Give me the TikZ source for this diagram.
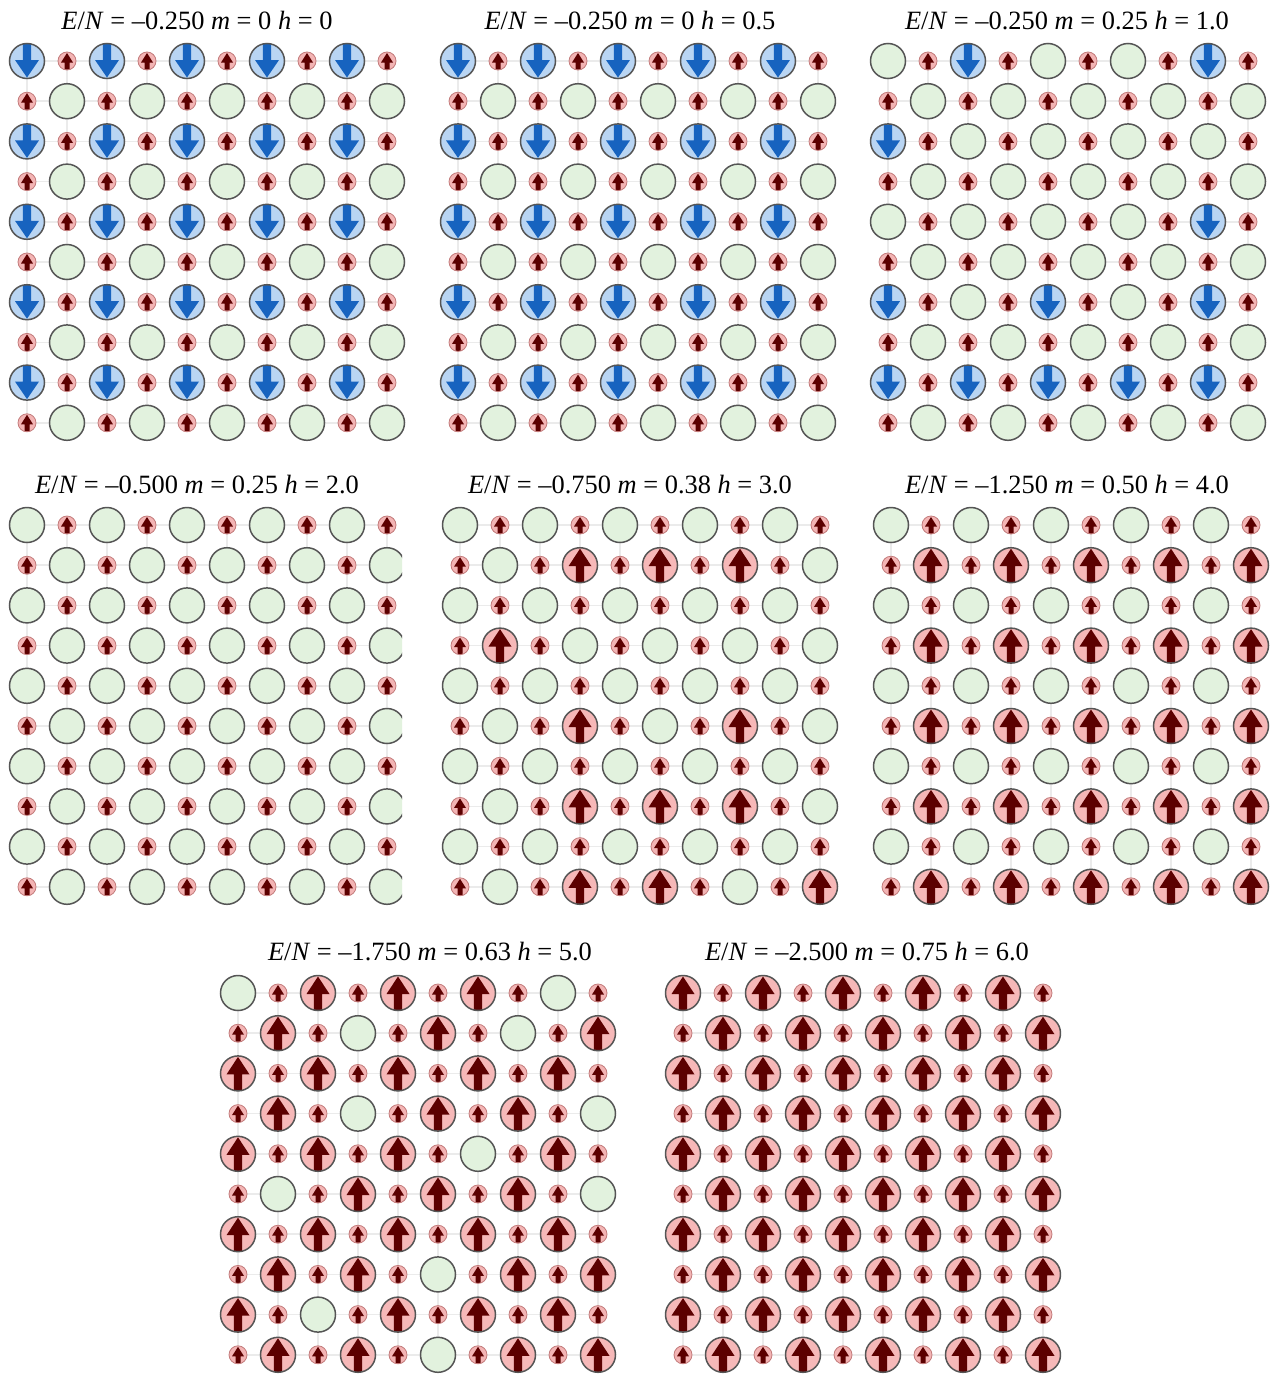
\documentclass[tikz,border=0pt]{standalone}
\usepackage{fontspec}
\setmainfont{Liberation Serif}
\definecolor{gfillc}{HTML}{E2F2DE}
\definecolor{bfillc}{HTML}{B9D5F3}
\definecolor{barrc}{HTML}{1763BF}
\definecolor{rfillc}{HTML}{F6B8B8}
\definecolor{rarrc}{HTML}{5C0000}
\definecolor{sfillc}{HTML}{F3B4B4}
\definecolor{srimc}{HTML}{C27A7A}
\definecolor{rimc}{HTML}{555555}
\definecolor{gridc}{HTML}{EBEBEB}
\def\pdx{40}
\def\pdy{40.2}
\newcommand\drawpanel[4]{%
  \begin{scope}
    \clip ({#1-30},{#2-30}) rectangle ({#3},{#2+9*\pdy+30});
    \foreach \rr in {0,...,9}{\draw[gridl] ({#1},{#2+\rr*\pdy}) -- ({#1+9*\pdx},{#2+\rr*\pdy});}
    \foreach \cc in {0,...,9}{\draw[gridl] ({#1+\cc*\pdx},{#2}) -- ({#1+\cc*\pdx},{#2+9*\pdy});}
    \foreach \rowlist [count=\rn from 0] in {#4}{%
      \pgfmathtruncatemacro\rpar{mod(\rn,2)}%
      \foreach \s [count=\kn from 0] in \rowlist {%
        \pic at ({#1+(2*\kn+\rpar)*\pdx},{#2+\rn*\pdy}) {big={\s}};
        \pic at ({#1+(2*\kn+1-\rpar)*\pdx},{#2+\rn*\pdy}) {small};
      }%
    }%
  \end{scope}}
\tikzset{
  gridl/.style={draw=gridc,line width=1.6pt},
  rim/.style={draw=rimc,line width=1.5pt},
  ttl/.style={anchor=base,inner sep=0pt,font=\fontsize{26.4}{30}\selectfont},
  small/.pic={
    \fill[sfillc] (0,0) circle (9pt);
    \fill[rarrc] (0,-8) -- (6,1.5) -- (2.5,1.5) -- (2.5,8.5) -- (-2.5,8.5) -- (-2.5,1.5) -- (-6,1.5) -- cycle;
    \draw[srimc,line width=0.8pt] (0,0) circle (9pt);
  },
  big/.pic={
    \ifcase#1
      \fill[gfillc] (0,0) circle (17.5pt);
    \or
      \fill[bfillc] (0,0) circle (17.5pt);
      \fill[barrc] (0,16.5) -- (12,-1) -- (4.2,-1) -- (4.2,-17) -- (-4.2,-17) -- (-4.2,-1) -- (-12,-1) -- cycle;
    \or
      \fill[rfillc] (0,0) circle (17.5pt);
      \fill[rarrc] (0,-16.5) -- (11.5,1) -- (4.2,1) -- (4.2,17) -- (-4.2,17) -- (-4.2,1) -- (-11.5,1) -- cycle;
    \fi
    \draw[rim] (0,0) circle (17.5pt);
  },
}
\begin{document}
\begin{tikzpicture}[x=1pt,y=-1pt]
\useasboundingbox (0,0) rectangle (1277,1376);
\fill[white] (0,0) rectangle (1277,1376);
% titles
\node[ttl] (t1) at (197,29) {\textit{E}/\textit{N} = –0.250 \textit{m} = 0 \textit{h} = 0};
\node[ttl] (t2) at (630,29) {\textit{E}/\textit{N} = –0.250 \textit{m} = 0 \textit{h} = 0.5};
\node[ttl] (t3) at (1067,29) {\textit{E}/\textit{N} = –0.250 \textit{m} = 0.25 \textit{h} = 1.0};
\node[ttl] (t4) at (197,493) {\textit{E}/\textit{N} = –0.500 \textit{m} = 0.25 \textit{h} = 2.0};
\node[ttl] (t5) at (630,493) {\textit{E}/\textit{N} = –0.750 \textit{m} = 0.38 \textit{h} = 3.0};
\node[ttl] (t6) at (1067,493) {\textit{E}/\textit{N} = –1.250 \textit{m} = 0.50 \textit{h} = 4.0};
\node[ttl] (t7) at (430,960) {\textit{E}/\textit{N} = –1.750 \textit{m} = 0.63 \textit{h} = 5.0};
\node[ttl] (t8) at (867,960) {\textit{E}/\textit{N} = –2.500 \textit{m} = 0.75 \textit{h} = 6.0};
% panels
\drawpanel{27}{61}{430}{{1,1,1,1,1},{0,0,0,0,0},{1,1,1,1,1},{0,0,0,0,0},{1,1,1,1,1},{0,0,0,0,0},{1,1,1,1,1},{0,0,0,0,0},{1,1,1,1,1},{0,0,0,0,0}}
\drawpanel{458}{61}{836}{{1,1,1,1,1},{0,0,0,0,0},{1,1,1,1,1},{0,0,0,0,0},{1,1,1,1,1},{0,0,0,0,0},{1,1,1,1,1},{0,0,0,0,0},{1,1,1,1,1},{0,0,0,0,0}}
\drawpanel{888}{61}{1277}{{0,1,0,0,1},{0,0,0,0,0},{1,0,0,0,0},{0,0,0,0,0},{0,0,0,0,1},{0,0,0,0,0},{1,0,1,0,1},{0,0,0,0,0},{1,1,1,1,1},{0,0,0,0,0}}
\drawpanel{27}{525}{402}{{0,0,0,0,0},{0,0,0,0,0},{0,0,0,0,0},{0,0,0,0,0},{0,0,0,0,0},{0,0,0,0,0},{0,0,0,0,0},{0,0,0,0,0},{0,0,0,0,0},{0,0,0,0,0}}
\drawpanel{460}{525}{860}{{0,0,0,0,0},{0,2,2,2,0},{0,0,0,0,0},{2,0,0,0,0},{0,0,0,0,0},{0,2,0,2,0},{0,0,0,0,0},{0,2,2,2,0},{0,0,0,0,0},{0,2,2,0,2}}
\drawpanel{891}{525}{1270}{{0,0,0,0,0},{2,2,2,2,2},{0,0,0,0,0},{2,2,2,2,2},{0,0,0,0,0},{2,2,2,2,2},{0,0,0,0,0},{2,2,2,2,2},{0,0,0,0,0},{2,2,2,2,2}}
\drawpanel{238}{993}{640}{{0,2,2,2,0},{2,0,2,0,2},{2,2,2,2,2},{2,0,2,2,0},{2,2,2,0,2},{0,2,2,2,0},{2,2,2,2,2},{2,2,0,2,2},{2,0,2,2,2},{2,2,0,2,2}}
\drawpanel{683}{993}{1061}{{2,2,2,2,2},{2,2,2,2,2},{2,2,2,2,2},{2,2,2,2,2},{2,2,2,2,2},{2,2,2,2,2},{2,2,2,2,2},{2,2,2,2,2},{2,2,2,2,2},{2,2,2,2,2}}
\end{tikzpicture}
\end{document}
